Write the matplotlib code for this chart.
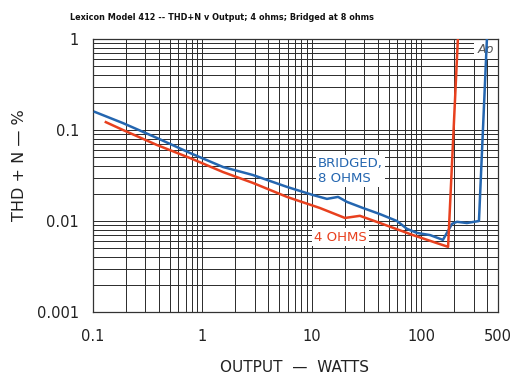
import numpy as np
import matplotlib
matplotlib.use("Agg")
import matplotlib.pyplot as plt
from matplotlib.ticker import LogLocator, NullFormatter, FixedLocator, FixedFormatter

title = "Lexicon Model 412 -- THD+N v Output; 4 ohms; Bridged at 8 ohms"

bridged_w = [0.104, 0.188, 0.384, 0.769, 1.54, 2.89, 5.91, 10.2, 13.7, 17.3, 20.9,
             29.2, 41.8, 59.7, 73.7, 91, 120, 157, 190, 211, 260, 335, 396]
bridged_thd = [0.158, 0.119, 0.0817, 0.0559, 0.0392, 0.032, 0.0237, 0.0193, 0.0175,
               0.0184, 0.0162, 0.0139, 0.0119, 0.0100, 0.0082, 0.0074, 0.0070, 0.0062,
               0.0093, 0.0098, 0.0095, 0.0100, 1.0]

ohm4_w = [0.131, 0.188, 0.384, 0.769, 1.54, 2.89, 5.91, 11.8, 20, 27.4, 41.8, 83.6, 175, 215]
ohm4_thd = [0.122, 0.100, 0.0684, 0.0492, 0.0345, 0.0262, 0.0184, 0.0139, 0.0108,
            0.0114, 0.0095, 0.0070, 0.0052, 1.0]

x_ticks = [0.1, 1, 10, 100, 500]
x_labels = ["0.1", "1", "10", "100", "500"]
y_ticks = [0.001, 0.01, 0.1, 1]
y_labels = ["0.001", "0.01", "0.1", "1"]

blue = "#2466b0"
red = "#e8401e"

fig = plt.figure(figsize=(5.14, 3.75), dpi=100)
ax = fig.add_axes([93/514, 1 - 312/375, 405/514, 273/375])
ax.set_xscale("log")
ax.set_yscale("log")
ax.set_xlim(0.1, 500)
ax.set_ylim(0.001, 1)

ax.xaxis.set_minor_locator(LogLocator(base=10, subs=np.arange(2, 10)))
ax.yaxis.set_minor_locator(LogLocator(base=10, subs=np.arange(2, 10)))
ax.xaxis.set_minor_formatter(NullFormatter())
ax.yaxis.set_minor_formatter(NullFormatter())
ax.xaxis.set_major_locator(FixedLocator(x_ticks))
ax.xaxis.set_major_formatter(FixedFormatter(x_labels))
ax.yaxis.set_major_locator(FixedLocator(y_ticks))
ax.yaxis.set_major_formatter(FixedFormatter(y_labels))
ax.tick_params(which="both", length=0, labelsize=10.5, colors="#222222")
ax.tick_params(axis="x", pad=12)
ax.tick_params(axis="y", pad=10)

ax.grid(True, which="both", color="#2a2a2a", linewidth=0.7)
for s in ax.spines.values():
    s.set_color("#333333")
    s.set_linewidth(0.9)

ax.plot(bridged_w, bridged_thd, color=blue, linewidth=1.8, zorder=3)
ax.plot(ohm4_w, ohm4_thd, color=red, linewidth=1.8, zorder=3)


def px_to_data(px, py):
    disp = fig.transFigure.transform((px/514, 1 - py/375))
    return ax.transData.inverted().transform(disp)


bx, by = px_to_data(318, 171)
ax.text(bx, by, "BRIDGED,\n8 OHMS", color=blue, fontsize=9.5, ha="left", va="center",
        linespacing=1.25, zorder=4,
        bbox=dict(facecolor="white", edgecolor="none", pad=1.5))
rx, ry = px_to_data(314, 237)
ax.text(rx, ry, "4 OHMS", color=red, fontsize=9.5, ha="left", va="center", zorder=4,
        bbox=dict(facecolor="white", edgecolor="none", pad=1.5))
lx, ly = px_to_data(486, 49)
ax.text(lx, ly, "Ap", color="#555555", fontsize=9, style="italic", ha="center",
        va="center", zorder=2,
        bbox=dict(facecolor="white", edgecolor="none", pad=2.5))

fig.text(70/514, 1 - 18/375, title, fontsize=5.9, fontweight="bold", ha="left",
         va="center", color="#111111")
fig.text(294/514, 1 - 367/375, "OUTPUT  —  WATTS", fontsize=11, ha="center",
         va="center", color="#222222")
fig.text(20/514, 1 - 165/375, "THD + N — %", fontsize=11.5, ha="center", va="center",
         rotation=90, color="#222222")

fig.savefig("out.png", dpi=100)
